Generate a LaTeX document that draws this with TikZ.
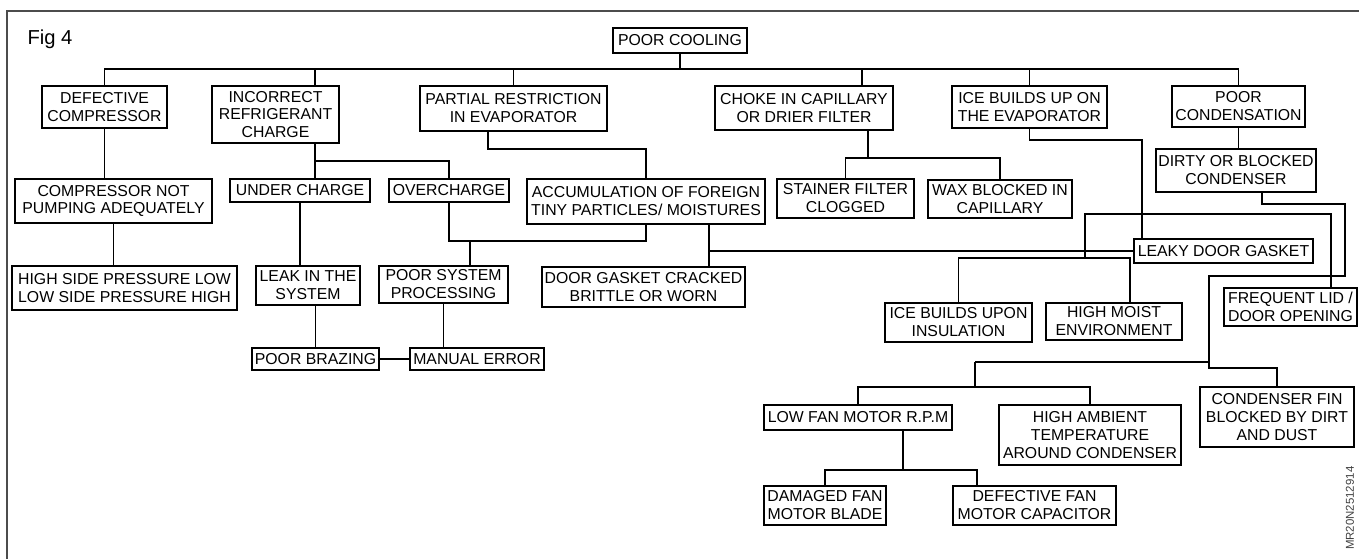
\documentclass[tikz,border=0pt]{standalone}
\usepackage{fontspec}
\setmainfont{Liberation Sans}
\usepackage{tikz}

\begin{document}
\begin{tikzpicture}[x=0.02cm, y=-0.02cm, line width=0.7pt,
    cause/.style={draw, rectangle, align=center, inner sep=1pt, font=\fontsize{9}{10.2}\selectfont}]
    \useasboundingbox (0,0) rectangle (1359,558);

    % Frame and title
    \draw[gray!60!black, line width=0.9pt] (7,600) |- (1400,11);
    \node[font=\fontsize{11.5}{13}\selectfont] (fig) at (50,39) {Fig 4};
    \node[rotate=90, anchor=east, inner sep=0pt, font=\fontsize{6.5}{7.5}\selectfont, text=black!75] (code) at (1350,466) {MR20N2512914};

    % Top level
    \node[cause, minimum width=2.68cm, minimum height=0.50cm] (cool) at (680,40.5) {POOR COOLING};
    \node[cause, minimum width=2.50cm, minimum height=0.84cm] (defect) at (104.5,107) {DEFECTIVE\\COMPRESSOR};
    \node[cause, minimum width=2.54cm, minimum height=1.14cm] (incor) at (275.5,114.5) {INCORRECT\\REFRIGERANT\\CHARGE};
    \node[cause, minimum width=3.74cm, minimum height=0.90cm] (partial) at (513.5,108.5) {PARTIAL RESTRICTION\\IN EVAPORATOR};
    \node[cause, minimum width=3.56cm, minimum height=0.88cm] (choke) at (804,108) {CHOKE IN CAPILLARY\\OR DRIER FILTER};
    \node[cause, minimum width=3.10cm, minimum height=0.84cm] (iceevap) at (1029.5,107) {ICE BUILDS UP ON\\THE EVAPORATOR};
    \node[cause, minimum width=2.66cm, minimum height=0.82cm] (poorcond) at (1238.5,106.5) {POOR\\CONDENSATION};

    % Compressor branch
    \node[cause, minimum width=3.94cm, minimum height=0.88cm] (compnot) at (113.5,201) {COMPRESSOR NOT\\PUMPING ADEQUATELY};
    \node[cause, minimum width=4.50cm, minimum height=0.88cm] (highside) at (124.5,288) {HIGH SIDE PRESSURE LOW\\LOW SIDE PRESSURE HIGH};

    % Charge branch
    \node[cause, minimum width=2.80cm, minimum height=0.46cm] (under) at (300,190.5) {UNDER CHARGE};
    \node[cause, minimum width=2.40cm, minimum height=0.46cm] (over) at (449,190.5) {OVERCHARGE};
    \node[cause, minimum width=2.08cm, minimum height=0.78cm] (leak) at (308,285.5) {LEAK IN THE\\SYSTEM};
    \node[cause, minimum width=2.58cm, minimum height=0.74cm] (poorsys) at (443.5,284.5) {POOR SYSTEM\\PROCESSING};
    \node[cause, minimum width=2.54cm, minimum height=0.44cm] (brazing) at (315.5,359) {POOR BRAZING};
    \node[cause, minimum width=2.68cm, minimum height=0.44cm] (manual) at (477,359) {MANUAL ERROR};

    % Evaporator and capillary branch
    \node[cause, minimum width=4.76cm, minimum height=0.90cm] (accum) at (646,201.5) {ACCUMULATION OF FOREIGN\\TINY PARTICLES/ MOISTURES};
    \node[cause, minimum width=4.06cm, minimum height=0.80cm] (gasket) at (643.5,287) {DOOR GASKET CRACKED\\BRITTLE OR WORN};
    \node[cause, minimum width=2.74cm, minimum height=0.78cm] (stainer) at (845.5,198.5) {STAINER FILTER\\CLOGGED};
    \node[cause, minimum width=2.88cm, minimum height=0.76cm] (wax) at (1000,199) {WAX BLOCKED IN\\CAPILLARY};
    \node[cause, minimum width=3.58cm, minimum height=0.48cm] (leaky) at (1223.5,251) {LEAKY DOOR GASKET};
    \node[cause, minimum width=2.94cm, minimum height=0.78cm] (iceins) at (958.5,322.5) {ICE BUILDS UPON\\INSULATION};
    \node[cause, minimum width=2.72cm, minimum height=0.74cm] (moist) at (1114,321.5) {HIGH MOIST\\ENVIRONMENT};
    \node[cause, minimum width=2.66cm, minimum height=0.76cm] (frequent) at (1290.5,307) {FREQUENT LID /\\DOOR OPENING};

    % Condenser branch
    \node[cause, minimum width=3.20cm, minimum height=0.86cm] (dirty) at (1236,170.5) {DIRTY OR BLOCKED\\CONDENSER};
    \node[cause, minimum width=3.76cm, minimum height=0.50cm] (lowfan) at (858,417.5) {LOW FAN MOTOR R.P.M};
    \node[cause, minimum width=3.64cm, minimum height=1.20cm] (ambient) at (1090,435) {HIGH AMBIENT\\TEMPERATURE\\AROUND CONDENSER};
    \node[cause, minimum width=3.08cm, minimum height=1.20cm] (fin) at (1277,417) {CONDENSER FIN\\BLOCKED BY DIRT\\AND DUST};
    \node[cause, minimum width=2.44cm, minimum height=0.78cm] (damaged) at (825,505.5) {DAMAGED FAN\\MOTOR BLADE};
    \node[cause, minimum width=3.26cm, minimum height=0.78cm] (defectfan) at (1034.5,505.5) {DEFECTIVE FAN\\MOTOR CAPACITOR};

    % Junctions
    \coordinate (bus) at (680,69);
    \coordinate (chkT) at (862,69);
    \coordinate (incJ) at (315,161);
    \coordinate (ovJ) at (470,241);
    \coordinate (parJ) at (488,149);
    \coordinate (chkJ) at (868,158);
    \coordinate (iceJ) at (1142,140);
    \coordinate (gasJ) at (709,251);
    \coordinate (frqJ) at (1085,214);
    \coordinate (frqE) at (1331,214);
    \coordinate (insJ) at (1085,258);
    \coordinate (drtA) at (1262,204);
    \coordinate (drtB) at (1345,276);
    \coordinate (drtC) at (1209,368);
    \coordinate (fanJ) at (975,362);
    \coordinate (fanK) at (975,387);
    \coordinate (lowJ) at (903,470);

    % Main bus
    \draw (cool.south) -- (bus);
    \draw (defect.north) |- (bus) -| (poorcond.north);
    \draw (incJ |- incor.north) -- (incJ |- bus);
    \draw (partial.north) -- (partial.north |- bus);
    \draw (chkT) -- (chkT |- choke.north);
    \draw (iceevap.north) -- (iceevap.north |- bus);

    % Compressor
    \draw (defect.south) -- (defect.south |- compnot.north);
    \draw (compnot.south) -- (compnot.south |- highside.north);

    % Charge
    \draw (incor.south -| incJ) -- (incJ);
    \draw (under.north -| incJ) -- (incJ) -| (over.north);
    \draw (under.south) -- (under.south |- leak.north);
    \draw (brazing.north) -- (brazing.north |- leak.south);
    \draw (brazing.east) -- (manual.west);
    \draw (poorsys.south) -- (poorsys.south |- manual.north);
    \draw (over.south) |- (ovJ) -- (ovJ -| accum.south) -- (accum.south);
    \draw (ovJ) -- (ovJ |- poorsys.north);

    % Evaporator
    \draw (parJ |- partial.south) -- (parJ) -| (accum.north);
    \draw (gasJ |- accum.south) -- (gasJ |- gasket.north);
    \draw (gasJ) -- (leaky.west);
    \draw (iceevap.south) |- (iceJ) -- (iceJ |- leaky.north);
    \draw (insJ) -- (frqJ) -- (frqE) -- (frqE |- frequent.north);
    \draw (iceins.north) |- (insJ) -| ([xshift=0.32cm]moist.north);

    % Capillary
    \draw (chkJ |- choke.south) -- (chkJ);
    \draw (stainer.north) |- (chkJ) -| (wax.north);

    % Condenser
    \draw (poorcond.south) -- (poorcond.south |- dirty.north);
    \draw (drtA |- dirty.south) -- (drtA) -| (drtB) -| (drtC) -| (fin.north);
    \draw (fanJ) -- (fanJ -| drtC);
    \draw (fanJ) -- (fanK);
    \draw (lowfan.north) |- (fanK) -| (ambient.north);
    \draw (lowJ |- lowfan.south) -- (lowJ);
    \draw (damaged.north) |- (lowJ) -| ([xshift=-1.15cm]defectfan.north);
\end{tikzpicture}
\end{document}
